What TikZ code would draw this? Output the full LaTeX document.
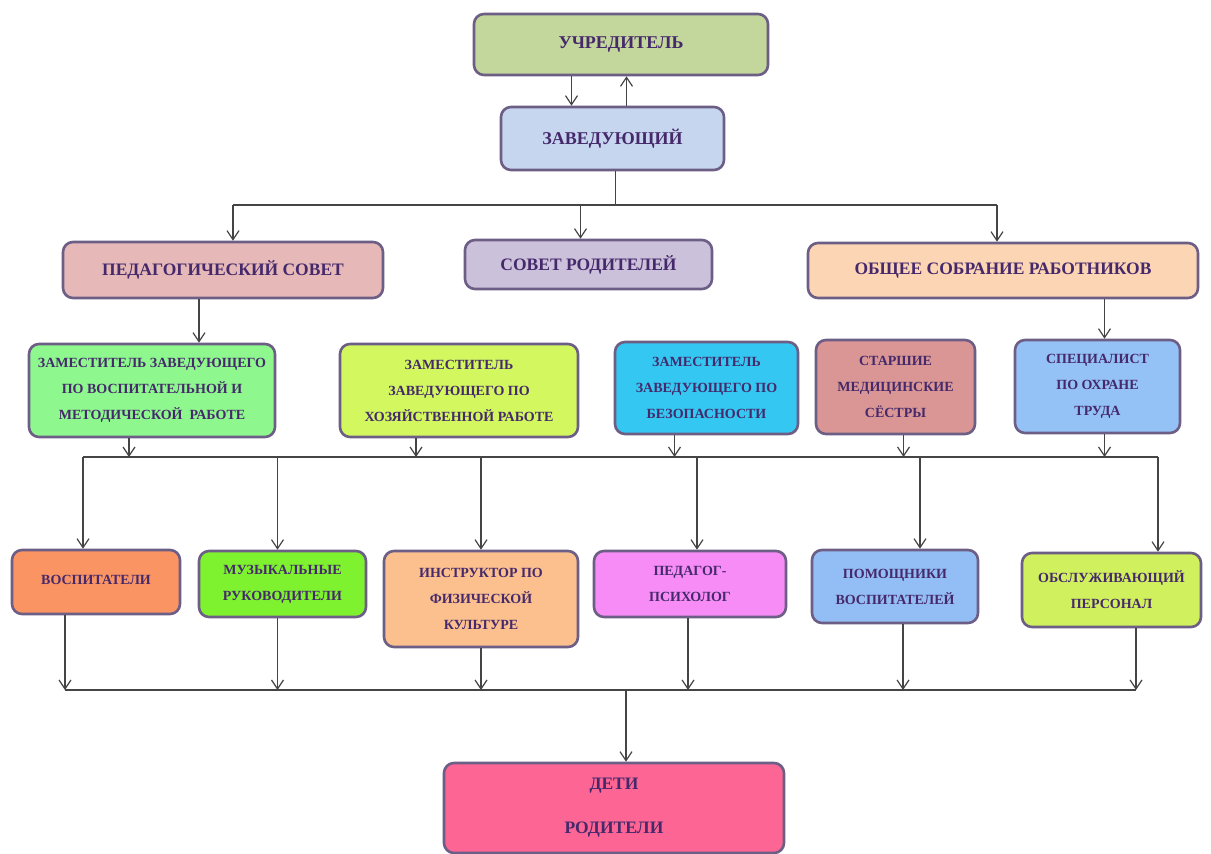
\documentclass[tikz,border=0pt]{standalone}
\usepackage{fontspec}
\setmainfont{Liberation Serif}
\usetikzlibrary{arrows.meta}
\definecolor{cUcr}{HTML}{C3D69B}
\definecolor{cZav}{HTML}{C6D6EF}
\definecolor{cPs}{HTML}{E6B9B8}
\definecolor{cSr}{HTML}{CCC1DA}
\definecolor{cOsr}{HTML}{FCD5B5}
\definecolor{cZa}{HTML}{8EF88E}
\definecolor{cZb}{HTML}{D2F75F}
\definecolor{cZc}{HTML}{33C7F2}
\definecolor{cMed}{HTML}{D99694}
\definecolor{cSpec}{HTML}{94C2F7}
\definecolor{cVos}{HTML}{FA9462}
\definecolor{cMuz}{HTML}{7EF22E}
\definecolor{cIns}{HTML}{FBC08E}
\definecolor{cPsi}{HTML}{F78CF7}
\definecolor{cPom}{HTML}{93BEF5}
\definecolor{cObs}{HTML}{D1F05E}
\definecolor{cDeti}{HTML}{FD6594}
\definecolor{boxline}{HTML}{6D5E86}
\definecolor{lineclr}{HTML}{454545}
\definecolor{txt}{HTML}{45296B}
\begin{document}
\begin{tikzpicture}[x=1pt,y=-1pt,
  box/.style={draw=boxline, line width=2.6pt, rounded corners=10pt, inner sep=2pt,
    align=center, text=txt, font=\bfseries\fontsize{14}{26}\selectfont},
  bigtext/.style={font=\bfseries\fontsize{17.5}{44}\selectfont},
  toptext/.style={font=\bfseries\fontsize{18}{22}\selectfont},
  conn/.style={draw=lineclr, line width=1.4pt},
  arr/.style={conn, -{Straight Barb[length=9pt,width=12pt,line width=1.2pt]}}]
\useasboundingbox (0,0) rectangle (1211,854);
\fill[white] (0,0) rectangle (1211,854);

% top
\node[box, toptext, fill=cUcr, minimum width=294pt, minimum height=61pt] (ucr) at (621,44.5) {\raisebox{4pt}{УЧРЕДИТЕЛЬ}};
\node[box, toptext, fill=cZav, minimum width=223pt, minimum height=63pt] (zav) at (612.5,138.5) {\raisebox{2pt}{ЗАВЕДУЮЩИЙ}};

% councils
\node[box, bigtext, fill=cPs, minimum width=320pt, minimum height=56pt] (ps) at (223,270) {ПЕДАГОГИЧЕСКИЙ СОВЕТ};
\node[box, bigtext, fill=cSr, minimum width=247pt, minimum height=49pt] (sr) at (588.5,264.5) {СОВЕТ РОДИТЕЛЕЙ};
\node[box, bigtext, fill=cOsr, minimum width=390pt, minimum height=55pt] (osr) at (1003,270.5) {ОБЩЕЕ СОБРАНИЕ РАБОТНИКОВ};

% deputies
\node[box, fill=cZa, minimum width=246pt, minimum height=93pt] (za) at (152,390.5) {ЗАМЕСТИТЕЛЬ ЗАВЕДУЮЩЕГО\\ПО ВОСПИТАТЕЛЬНОЙ И\\МЕТОДИЧЕСКОЙ \ РАБОТЕ};
\node[box, fill=cZb, minimum width=238pt, minimum height=93pt] (zb) at (459,390.5) {ЗАМЕСТИТЕЛЬ\\ЗАВЕДУЮЩЕГО ПО\\ХОЗЯЙСТВЕННОЙ РАБОТЕ};
\node[box, fill=cZc, minimum width=183pt, minimum height=92pt] (zc) at (706.5,388) {ЗАМЕСТИТЕЛЬ\\ЗАВЕДУЮЩЕГО ПО\\БЕЗОПАСНОСТИ};
\node[box, fill=cMed, minimum width=159pt, minimum height=94pt] (med) at (895.5,387) {СТАРШИЕ\\МЕДИЦИНСКИЕ\\СЁСТРЫ};
\node[box, fill=cSpec, minimum width=165pt, minimum height=93pt] (spec) at (1097.5,386.5) {СПЕЦИАЛИСТ\\ПО ОХРАНЕ\\ТРУДА};

% staff
\node[box, fill=cVos, minimum width=168pt, minimum height=64pt] (vos) at (96,582) {\raisebox{5pt}{ВОСПИТАТЕЛИ}};
\node[box, fill=cMuz, minimum width=167pt, minimum height=66pt] (muz) at (282.5,584) {МУЗЫКАЛЬНЫЕ\\РУКОВОДИТЕЛИ};
\node[box, fill=cIns, minimum width=194pt, minimum height=96pt] (ins) at (481,599) {ИНСТРУКТОР ПО\\ФИЗИЧЕСКОЙ\\КУЛЬТУРЕ};
\node[box, fill=cPsi, minimum width=192pt, minimum height=66pt] (psi) at (690,584) {ПЕДАГОГ-\\ПСИХОЛОГ};
\node[box, fill=cPom, minimum width=166pt, minimum height=73pt] (pom) at (895,586.5) {ПОМОЩНИКИ\\ВОСПИТАТЕЛЕЙ};
\node[box, fill=cObs, minimum width=179pt, minimum height=74pt] (obs) at (1111.5,590) {ОБСЛУЖИВАЮЩИЙ\\ПЕРСОНАЛ};

% bottom
\node[box, bigtext, fill=cDeti, minimum width=340pt, minimum height=90pt] (deti) at (614,808) {\raisebox{-4pt}{ДЕТИ}\\\raisebox{-4pt}{РОДИТЕЛИ}};

% bus levels
\coordinate (bus1) at (0,205);
\coordinate (bus2) at (0,457);
\coordinate (bus3) at (0,690);

% top connectors
\draw[arr] ([xshift=-41pt]zav.north |- ucr.south) -- ([xshift=-41pt]zav.north);
\draw[arr] ([xshift=14pt]zav.north) -- ([xshift=14pt]zav.north |- ucr.south);

% bus1
\draw[conn] ([xshift=3pt]zav.south) -- ([xshift=3pt]zav.south |- bus1);
\draw[conn] ([xshift=10pt]ps.north |- bus1) -- ([xshift=-6pt]osr.north |- bus1);
\draw[arr] ([xshift=10pt]ps.north |- bus1) -- ([xshift=10pt]ps.north);
\draw[arr] ([xshift=-8pt]sr.north |- bus1) -- ([xshift=-8pt]sr.north);
\draw[arr] ([xshift=-6pt]osr.north |- bus1) -- ([xshift=-6pt]osr.north);

% councils to deputies
\draw[arr] ([xshift=47pt]za.north |- ps.south) -- ([xshift=47pt]za.north);
\draw[arr] ([xshift=7pt]spec.north |- osr.south) -- ([xshift=7pt]spec.north);

% bus2
\draw[arr] ([xshift=-23pt]za.south) -- ([xshift=-23pt]za.south |- bus2);
\draw[arr] ([xshift=-43pt]zb.south) -- ([xshift=-43pt]zb.south |- bus2);
\draw[arr] ([xshift=-32pt]zc.south) -- ([xshift=-32pt]zc.south |- bus2);
\draw[arr] ([xshift=8pt]med.south) -- ([xshift=8pt]med.south |- bus2);
\draw[arr] ([xshift=7pt]spec.south) -- ([xshift=7pt]spec.south |- bus2);
\draw[conn] ([xshift=-13pt]vos.north |- bus2) -- ([xshift=46.5pt]obs.north |- bus2);
\draw[arr] ([xshift=-13pt]vos.north |- bus2) -- ([xshift=-13pt]vos.north);
\draw[arr] ([xshift=-5pt]muz.north |- bus2) -- ([xshift=-5pt]muz.north);
\draw[arr] (ins.north |- bus2) -- (ins.north);
\draw[arr] ([xshift=7pt]psi.north |- bus2) -- ([xshift=7pt]psi.north);
\draw[arr] ([xshift=25pt]pom.north |- bus2) -- ([xshift=25pt]pom.north);
\draw[arr] ([xshift=46.5pt]obs.north |- bus2) -- ([xshift=46.5pt]obs.north);

% bus3
\draw[arr] ([xshift=-31pt]vos.south) -- ([xshift=-31pt]vos.south |- bus3);
\draw[arr] ([xshift=-5pt]muz.south) -- ([xshift=-5pt]muz.south |- bus3);
\draw[arr] (ins.south) -- (ins.south |- bus3);
\draw[arr] ([xshift=-2pt]psi.south) -- ([xshift=-2pt]psi.south |- bus3);
\draw[arr] ([xshift=8pt]pom.south) -- ([xshift=8pt]pom.south |- bus3);
\draw[arr] ([xshift=24.5pt]obs.south) -- ([xshift=24.5pt]obs.south |- bus3);
\draw[conn] ([xshift=-31pt]vos.south |- bus3) -- ([xshift=24.5pt]obs.south |- bus3);
\draw[arr] ([xshift=12pt]deti.north |- bus3) -- ([xshift=12pt]deti.north);
\end{tikzpicture}
\end{document}
